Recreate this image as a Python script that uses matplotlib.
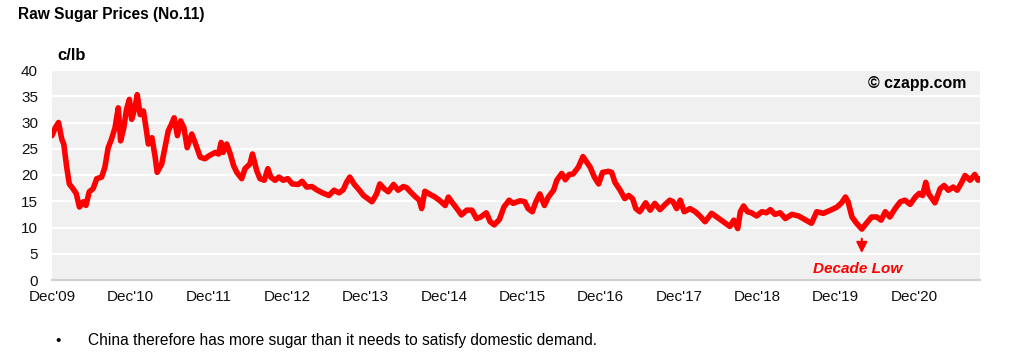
import matplotlib.pyplot as plt

plt.rcParams['font.family'] = ['Liberation Sans', 'DejaVu Sans']

# months since Dec 2009, price in c/lb
months = [0, 0.5, 1.0, 1.5, 1.8, 2.25, 2.65, 3.2, 3.7, 4.2, 4.8, 5.2, 5.7, 6.3, 6.85,
          7.6, 8.1, 8.6, 9.1, 9.65, 10.15, 10.5, 11.0, 11.4, 11.85, 12.2, 12.7, 13.05,
          13.5, 14.0, 14.5, 14.75, 15.3, 15.8, 16.1, 16.8, 17.3, 17.8, 18.3, 18.7, 19.2,
          19.7, 20.2, 20.7, 21.4, 21.9, 22.7, 23.4, 24.1,
          25.0, 25.5, 25.9, 26.2, 26.75, 27.3, 27.8, 28.3, 29.05, 29.55, 30.3, 30.7,
          31.35, 31.85, 32.5, 33.05, 33.5, 34.15, 34.75, 35.4, 36.1, 36.8, 37.7, 38.3,
          39.0, 39.8, 40.5, 41.4, 42.4, 43.2, 43.95, 44.6, 45.1, 45.6, 46.3, 47.0, 47.7,
          49.0, 49.7, 50.2, 50.85, 51.5, 52.3, 53.0, 53.8, 54.3, 54.8, 55.6, 56.25,
          56.6, 57.1, 57.9, 58.65, 59.4, 60.2, 60.7, 61.2, 62.0, 62.7, 63.5, 64.3, 65.0,
          65.65, 66.5, 67.1, 67.7, 68.5, 69.2, 70.0, 70.6,
          71.7, 72.4, 72.9, 73.55, 74.1, 74.7, 75.4, 76.0, 76.8, 77.3, 78.05, 78.6,
          79.2, 79.8, 80.6, 81.3, 81.9, 82.4, 83.05, 83.7, 84.3, 85.2, 85.7, 86.2, 87.0,
          87.7, 88.3, 88.9, 89.4, 90.0, 90.9, 91.6, 92.3, 93.1, 93.9, 94.6,
          95.1, 95.65, 96.2, 96.8, 97.7, 98.5, 99.2, 100.0, 101.0, 101.8, 102.8, 103.8,
          104.4, 105.0, 105.4, 105.9, 106.5, 107.1, 107.9, 108.7, 109.4, 110.0, 110.7,
          111.5, 112.3, 113.3, 114.3, 115.3, 116.3, 117.1, 118.1,
          119.4, 120.2, 120.9, 121.5, 121.9, 122.5, 123.2, 124.0, 124.7, 125.5, 126.3,
          126.95, 127.6, 128.3, 129.1, 129.9, 130.6, 131.4, 132.2, 132.8, 133.3, 133.8,
          134.2, 135.2, 136.0, 136.6, 137.25, 138.0, 138.6, 139.3, 139.8, 140.6, 141.3,
          141.8, 142.1]
prices = [27.5, 29.0, 30.0, 26.8, 25.9, 21.5, 18.3, 17.4, 16.5, 13.9, 14.9, 14.2, 16.8,
          17.4, 19.3, 19.6, 21.5, 25.2, 26.8, 29.0, 32.8, 26.5, 29.0, 32.5, 34.4, 30.6,
          32.8, 35.3, 31.5, 32.2, 28.1, 25.9, 27.1, 23.4, 20.5, 22.1, 25.2, 28.4, 29.7,
          30.9, 27.5, 30.3, 29.0, 25.2, 27.8, 26.2, 23.4, 23.1, 23.7,
          24.3, 24.0, 26.2, 24.3, 25.9, 24.0, 21.8, 20.5, 19.3, 21.2, 22.1, 24.0,
          20.8, 19.3, 19.0, 21.2, 19.6, 19.0, 19.6, 19.0, 19.3, 18.3, 18.2, 18.8,
          17.7, 17.8, 17.2, 16.6, 16.1, 17.1, 16.6, 17.2, 18.6, 19.6, 18.2, 17.2, 16.1,
          14.9, 16.4, 18.3, 17.4, 16.8, 18.2, 17.1, 17.8, 17.6, 16.9, 15.9, 15.2,
          13.6, 16.9, 16.3, 15.8, 15.1, 14.2, 15.8, 14.9, 13.6, 12.4, 13.3, 13.3, 11.7,
          12.0, 12.8, 11.1, 10.5, 11.5, 13.9, 15.2, 14.6,
          15.1, 14.9, 13.6, 13.0, 14.9, 16.4, 14.2, 15.8, 17.1, 19.0, 20.3, 19.1,
          20.1, 20.2, 21.5, 23.5, 22.4, 21.5, 19.6, 18.3, 20.5, 20.7, 20.5, 18.6, 17.1,
          15.5, 16.1, 15.5, 13.6, 13.0, 14.7, 13.3, 14.6, 13.4, 14.4, 15.2,
          14.9, 13.6, 15.2, 13.0, 13.6, 13.0, 12.2, 11.1, 12.7, 12.0, 11.1, 10.2,
          11.4, 9.8, 13.0, 14.1, 13.0, 12.8, 12.2, 13.0, 12.8, 13.4, 12.5,
          12.8, 11.7, 12.5, 12.2, 11.5, 10.8, 13.0, 12.7,
          13.4, 13.9, 14.7, 15.8, 14.9, 12.0, 10.8, 9.7, 10.8, 12.0, 12.0,
          11.4, 13.0, 12.0, 13.6, 14.9, 15.2, 14.4, 15.8, 16.5, 16.1, 18.6,
          16.5, 14.7, 17.4, 18.0, 17.1, 17.7, 17.1, 18.6, 19.9, 19.0, 20.1,
          19.0, 19.3]

tick_months = list(range(0, 144, 12))
tick_labels = ["Dec'09", "Dec'10", "Dec'11", "Dec'12", "Dec'13", "Dec'14",
               "Dec'15", "Dec'16", "Dec'17", "Dec'18", "Dec'19", "Dec'20"]
low_month, low_price = 124.0, 9.7

fig = plt.figure(figsize=(10.24, 3.54), dpi=100)
ax = fig.add_axes([52/1024, 1-280/354, (980-52)/1024, 210/354])
ax.set_facecolor('#f0f0f0')

ax.plot(months, prices, color='#ff0000', lw=4.0, solid_joinstyle='round',
        solid_capstyle='round', zorder=3)

ax.set_xlim(0, 142.1)
ax.set_ylim(0, 40)
ax.set_yticks(range(0, 41, 5))
ax.set_xticks(tick_months)
ax.set_xticklabels(tick_labels)
ax.yaxis.grid(True, color='white', lw=1.6)
ax.set_axisbelow(True)
for s in ['top', 'right', 'left']:
    ax.spines[s].set_visible(False)
ax.spines['bottom'].set_color('#d0d0d0')
ax.spines['bottom'].set_linewidth(1.5)
ax.tick_params(length=0, labelsize=11, colors='#111111')
ax.tick_params(axis='y', pad=10)
ax.tick_params(axis='x', pad=7)

fig.text(18/1024, 1-14/354, "Raw Sugar Prices (No.11)", fontsize=11.2, fontweight='bold',
         va='center', ha='left')
fig.text(57/1024, 1-55/354, "c/lb", fontsize=12, fontweight='bold', va='center', ha='left')
ax.text(0.985, 0.935, "\u00a9 czapp.com", transform=ax.transAxes, fontsize=11.4,
        fontweight='bold', ha='right', va='center')
ax.annotate("", xy=(low_month, 4.6), xytext=(low_month, 8.4),
            arrowprops=dict(arrowstyle='-|>', color='#ff0000', lw=1.5, mutation_scale=16))
ax.text(low_month - 0.6, 2.1, "Decade Low", color='#ff0000', fontsize=11,
        fontweight='bold', fontstyle='italic', ha='center', va='center')

fig.text(55/1024, 1-341/354, "\u2022", fontsize=11, va='center', ha='left')
fig.text(88/1024, 1-341/354, "China therefore has more sugar than it needs to satisfy domestic demand.",
         fontsize=11.2, va='center', ha='left')

fig.savefig('out.png', dpi=100)
